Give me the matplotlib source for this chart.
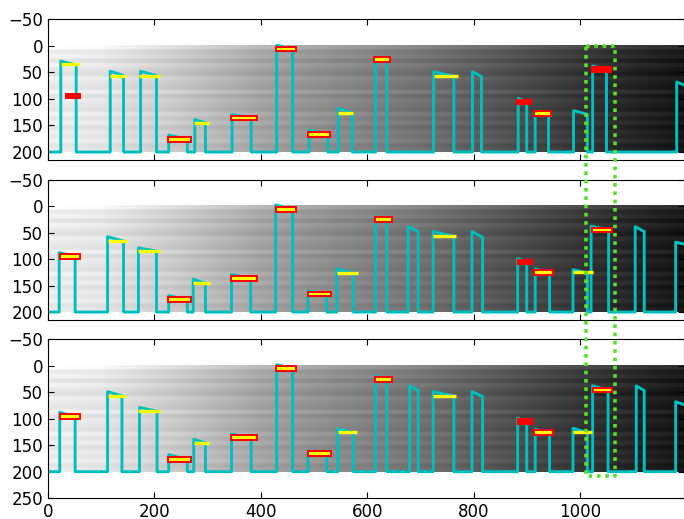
import numpy as np
import matplotlib
matplotlib.use('Agg')
import matplotlib.pyplot as plt
from matplotlib.patches import Rectangle
from matplotlib.lines import Line2D

# background brightness along x (at 0, 100, ..., 1200) and horizontal streaks per row band
col_gray = [240, 233, 214, 192, 168, 150, 134, 118, 98, 78, 58, 40, 24]
row_shade = [18, -3, 5, -10, 4, -6, -12, 3, -4, -9, 5, -11, 1, -5, -10, 4, -7, 2, -11, 0, -6, 4, -9, -3]

# traces: rise x, fall x, top y at rise, top y at fall
rise_a = [24, 117, 174, 227, 276, 346, 430, 491, 546, 616, 725, 798, 884, 916, 988, 1024, 1182]
fall_a = [53, 142, 204, 262, 296, 382, 460, 526, 572, 637, 763, 815, 900, 941, 1014, 1050, 1200]
top_a = [29, 48, 48, 168, 139, 129, -1, 159, 118, 21, 49, 49, 99, 124, 122, 38, 68]
end_a = [36, 56, 56, 176, 145, 136, 6, 167, 126, 26, 57, 58, 106, 128, 129, 45, 76]

rise_b = [21, 112, 170, 227, 273, 345, 428, 489, 543, 616, 677, 724, 797, 883, 916, 987, 1021, 1104, 1180]
fall_b = [51, 142, 204, 262, 296, 381, 460, 524, 574, 637, 696, 763, 817, 900, 943, 1014, 1054, 1121, 1200]
top_b = [88, 58, 79, 169, 138, 129, -2, 160, 119, 20, 39, 48, 48, 99, 119, 120, 38, 39, 68]
end_b = [95, 66, 85, 177, 146, 136, 6, 166, 126, 26, 48, 57, 59, 105, 126, 126, 45, 48, 73]

rise_c = [22, 112, 172, 227, 274, 345, 430, 489, 545, 616, 680, 724, 797, 883, 916, 987, 1024, 1106, 1180]
fall_c = [51, 139, 205, 262, 296, 382, 460, 524, 574, 637, 696, 763, 817, 900, 943, 1014, 1053, 1121, 1200]
top_c = [88, 49, 79, 168, 139, 129, -2, 161, 119, 19, 38, 49, 49, 99, 120, 118, 38, 38, 68]
end_c = [96, 57, 86, 177, 146, 136, 6, 166, 126, 26, 47, 57, 58, 106, 126, 126, 46, 47, 75]

# markers: (x start, x end, y centre)
red_a = [(31, 62, 95), (880, 910, 106), (1020, 1060, 45)]
boxed_a = [(224, 270, 176), (342, 394, 136), (426, 468, 6), (487, 533, 167), (611, 645, 26), (912, 948, 127)]
yellow_a = [(24, 58, 35), (117, 147, 56), (172, 210, 56), (274, 302, 145), (546, 574, 126), (725, 770, 57)]

red_b = [(882, 912, 105)]
boxed_b = [(21, 62, 95), (224, 270, 177), (342, 394, 136), (426, 469, 6), (487, 534, 166),
           (613, 649, 26), (912, 952, 126), (1021, 1063, 45)]
yellow_b = [(112, 148, 66), (170, 211, 85), (273, 304, 146), (543, 582, 126), (724, 768, 57), (987, 1024, 125)]

red_c = [(882, 912, 105)]
boxed_c = [(21, 62, 96), (224, 270, 177), (342, 394, 136), (426, 469, 6), (487, 534, 166),
           (613, 649, 26), (912, 952, 126), (1022, 1063, 46)]
yellow_c = [(112, 146, 57), (170, 211, 86), (274, 302, 146), (545, 581, 126), (724, 768, 57), (987, 1023, 126)]

# highlighted column
focus_x = (1012, 1066)
focus_y = (0, 208)

plt.rcParams['font.family'] = 'DejaVu Sans'
plt.rcParams['font.size'] = 12
plt.rcParams['xtick.direction'] = 'in'
plt.rcParams['ytick.direction'] = 'in'
plt.rcParams['xtick.top'] = True
plt.rcParams['ytick.right'] = True
plt.rcParams['xtick.major.size'] = 4
plt.rcParams['ytick.major.size'] = 4


def draw_panel(ax, rises, falls, tops, ends, reds, boxed, yellows, ylim_bottom, show_x):
    img = np.array(col_gray, dtype=float)[None, :] + np.repeat(np.array(row_shade, dtype=float), 3)[:, None]
    img = np.clip(img, 0, 255)
    ax.imshow(img, cmap='gray', vmin=0, vmax=255, extent=(-50, 1250, 200, 0),
              aspect='auto', interpolation='bilinear', zorder=0)

    xs = [0]
    ys = [200]
    for xr, xf, yt, ye in zip(rises, falls, tops, ends):
        xs += [xr, xr, xf, xf]
        ys += [200, yt, ye, 200]
    xs.append(1200)
    ys.append(200)
    ax.plot(xs, ys, color='c', lw=2.1, zorder=2)

    for x0, x1, yc in reds:
        ax.add_patch(Rectangle((x0, yc - 6), x1 - x0, 12, facecolor='red', edgecolor='none', zorder=3))
    for x0, x1, yc in boxed:
        ax.add_patch(Rectangle((x0 + 2, yc - 4.5), x1 - x0 - 4, 9, facecolor='yellow',
                               edgecolor='red', lw=1.4, zorder=3))
    for x0, x1, yc in yellows:
        ax.plot([x0, x1], [yc, yc], color='yellow', lw=2.4, solid_capstyle='butt', zorder=3)

    ax.set_xlim(0, 1196)
    ax.set_ylim(ylim_bottom, -50)
    ax.set_xticks([0, 200, 400, 600, 800, 1000])
    ax.set_yticks(list(range(-50, ylim_bottom + 1, 50)))
    if not show_x:
        ax.set_xticklabels([])


fig = plt.figure(figsize=(6.84, 5.19), dpi=100)
ax_a = fig.add_axes([0.0702, 0.6917, 0.930, 0.2713])
ax_b = fig.add_axes([0.0702, 0.3834, 0.930, 0.2707])
ax_c = fig.add_axes([0.0702, 0.0401, 0.930, 0.3064])

draw_panel(ax_a, rise_a, fall_a, top_a, end_a, red_a, boxed_a, yellow_a, 215, False)
draw_panel(ax_b, rise_b, fall_b, top_b, end_b, red_b, boxed_b, yellow_b, 215, False)
draw_panel(ax_c, rise_c, fall_c, top_c, end_c, red_c, boxed_c, yellow_c, 250, True)

# dotted frame across all three panels
p_top_left = ax_a.transData.transform((focus_x[0], focus_y[0]))
p_bot_right = ax_c.transData.transform((focus_x[1], focus_y[1]))
inv = fig.transFigure.inverted()
x0, y0 = inv.transform(p_top_left)
x1, y1 = inv.transform(p_bot_right)
frame = Line2D([x0, x1, x1, x0, x0], [y0, y0, y1, y1, y0], transform=fig.transFigure,
               color='#58e02c', lw=2.6, linestyle=(0, (1, 1.3)), zorder=10)
fig.add_artist(frame)

fig.savefig('out.png', dpi=100, facecolor='white')
